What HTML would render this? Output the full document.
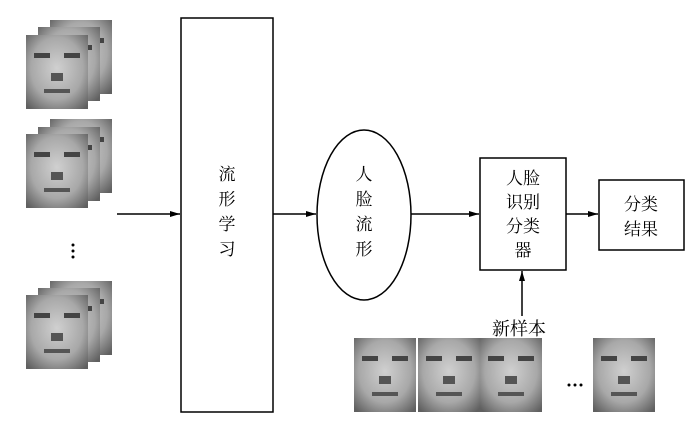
<!DOCTYPE html>
<html><head><meta charset="utf-8"><style>
body{margin:0;background:#fff;width:700px;height:437px;overflow:hidden}
svg{display:block}
text{font-family:"Liberation Serif","Noto Serif CJK SC","Noto Sans CJK SC",serif;fill:#000;font-size:17px;text-anchor:middle}
</style></head><body>
<svg width="700" height="437" viewBox="0 0 700 437">
<defs>
<radialGradient id="f" cx="50%" cy="45%" r="70%">
<stop offset="0" stop-color="#d0d0d0"/><stop offset="0.6" stop-color="#a8a8a8"/><stop offset="1" stop-color="#606060"/>
</radialGradient>
<g id="face">
<rect width="62" height="74" fill="url(#f)"/>
<rect x="8" y="18" width="16" height="5" fill="#444"/><rect x="38" y="18" width="16" height="5" fill="#444"/>
<rect x="25" y="38" width="12" height="8" fill="#555"/>
<rect x="18" y="54" width="26" height="4" fill="#555"/>
</g>
<marker id="a" markerWidth="10" markerHeight="8" refX="10" refY="4" orient="auto" markerUnits="userSpaceOnUse"><path d="M0,1 L10,4 L0,7z" fill="#000"/></marker>
</defs>
<g>
<use href="#face" x="50" y="20"/><use href="#face" x="38" y="27"/><use href="#face" x="26" y="35"/>
<use href="#face" x="50" y="119"/><use href="#face" x="38" y="127"/><use href="#face" x="26" y="134"/>
<use href="#face" x="50" y="281"/><use href="#face" x="38" y="288"/><use href="#face" x="26" y="295"/>
</g>
<circle cx="73" cy="245" r="1.5"/><circle cx="73" cy="251" r="1.5"/><circle cx="73" cy="257" r="1.5"/>
<g stroke="#000" stroke-width="1.5" fill="none">
<line x1="117" y1="214" x2="180" y2="214" marker-end="url(#a)"/>
<rect x="181" y="18" width="92" height="394"/>
<line x1="273" y1="214" x2="316" y2="214" marker-end="url(#a)"/>
<ellipse cx="364" cy="215" rx="47" ry="85"/>
<line x1="411" y1="214" x2="479" y2="214" marker-end="url(#a)"/>
<rect x="480" y="158" width="86" height="112"/>
<line x1="566" y1="214" x2="598" y2="214" marker-end="url(#a)"/>
<rect x="599" y="180" width="85" height="70"/>
<line x1="522" y1="316" x2="522" y2="271" marker-end="url(#a)"/>
</g>
<text x="227" y="180">流</text><text x="227" y="205">形</text><text x="227" y="230">学</text><text x="227" y="255">习</text>
<text x="364" y="180">人</text><text x="364" y="205">脸</text><text x="364" y="230">流</text><text x="364" y="255">形</text>
<text x="523" y="184">人脸</text><text x="523" y="208">识别</text><text x="523" y="232">分类</text><text x="523" y="256">器</text>
<text x="641" y="210">分类</text><text x="641" y="235">结果</text>
<text x="519" y="335" style="font-size:18px">新样本</text>
<use href="#face" x="354" y="338"/><use href="#face" x="418" y="338"/><use href="#face" x="480" y="338"/>
<use href="#face" x="593" y="338"/>
<circle cx="569" cy="385" r="1.5"/><circle cx="575" cy="385" r="1.5"/><circle cx="581" cy="385" r="1.5"/>
</svg>
</body></html>
